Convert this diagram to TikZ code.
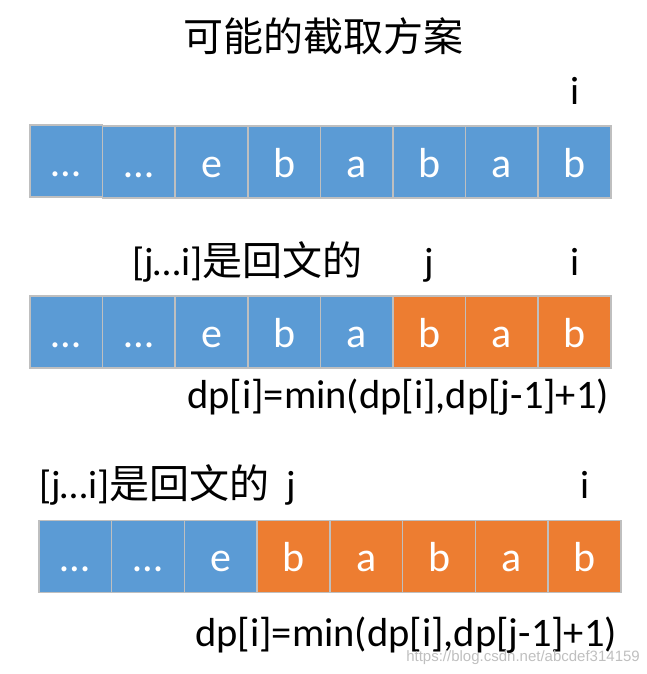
\documentclass[tikz,border=0pt]{standalone}
\usepackage{fontspec}
\setmainfont{Carlito}
\newfontfamily\cjk{Noto Sans CJK SC}
\newfontfamily\wmfont{Liberation Sans}
\definecolor{cellblue}{RGB}{91,155,213}
\definecolor{cellorange}{RGB}{237,125,49}
\definecolor{cellline}{RGB}{191,191,191}
\tikzset{
	cell/.style={draw=cellline, line width=1.5pt, minimum width=72.6pt, minimum height=72pt, inner sep=0pt, outer sep=0pt, text=white, text height=30pt, text depth=0pt, font=\fontsize{42}{42}\selectfont},
	bluecell/.style={cell, fill=cellblue},
	orangecell/.style={cell, fill=cellorange},
	lbl/.style={inner sep=0pt, anchor=base, font=\fontsize{39.5}{40}\selectfont},
	formula/.style={lbl, anchor=base west, font=\fontsize{40.5}{42}\selectfont},
}

\begin{document}
\begin{tikzpicture}[x=1pt, y=-1pt]
		%%%%% START %%%%%
		\useasboundingbox (0, 0) rectangle (646, 674);
		
		\node[lbl, font=\cjk\fontsize{40}{40}\selectfont] (title) at (323, 52) {可能的截取方案};
		
		% first row
		\node[lbl] (i1) at (575, 105) {i};
		\node[bluecell] (c11) at (66.3, 161) {…};
		\node[bluecell] (c12) at (138.9, 162) {…};
		\node[bluecell] (c13) at (211.5, 162) {e};
		\node[bluecell] (c14) at (284.1, 162) {b};
		\node[bluecell] (c15) at (356.7, 162) {a};
		\node[bluecell] (c16) at (429.3, 162) {b};
		\node[bluecell] (c17) at (501.9, 162) {a};
		\node[bluecell] (c18) at (574.5, 162) {b};
		
		% second row
		\node[lbl, anchor=base west] (pal2) at (132, 275) {[j…i]{\cjk\fontsize{40}{40}\selectfont 是回文的}};
		\node[lbl] (j2) at (429, 275) {j};
		\node[lbl] (i2) at (575, 275) {i};
		\node[bluecell] (c21) at (66.3, 332) {…};
		\node[bluecell] (c22) at (138.9, 332) {…};
		\node[bluecell] (c23) at (211.5, 332) {e};
		\node[bluecell] (c24) at (284.1, 332) {b};
		\node[bluecell] (c25) at (356.7, 332) {a};
		\node[orangecell] (c26) at (429.3, 332) {b};
		\node[orangecell] (c27) at (501.9, 332) {a};
		\node[orangecell] (c28) at (574.5, 332) {b};
		\node[formula] (dp2) at (187, 408) {dp[i]=min(dp[i],dp[j-1]+1)};
		
		% third row
		\node[lbl, anchor=base west] (pal3) at (39, 498) {[j…i]{\cjk\fontsize{40}{40}\selectfont 是回文的}};
		\node[lbl] (j3) at (291, 498) {j};
		\node[lbl] (i3) at (585, 498) {i};
		\node[bluecell, minimum width=72.75pt] (c31) at (75.4, 556.5) {…};
		\node[bluecell, minimum width=72.75pt] (c32) at (148.1, 556.5) {…};
		\node[bluecell, minimum width=72.75pt] (c33) at (220.9, 556.5) {e};
		\node[orangecell, minimum width=72.75pt] (c34) at (293.6, 556.5) {b};
		\node[orangecell, minimum width=72.75pt] (c35) at (366.4, 556.5) {a};
		\node[orangecell, minimum width=72.75pt] (c36) at (439.1, 556.5) {b};
		\node[orangecell, minimum width=72.75pt] (c37) at (511.9, 556.5) {a};
		\node[orangecell, minimum width=72.75pt] (c38) at (584.6, 556.5) {b};
		\node[formula] (dp3) at (195, 646) {dp[i]=min(dp[i],dp[j-1]+1)};
		
		\node[inner sep=0pt, anchor=base east, text=black!25, font=\wmfont\fontsize{15}{15}\selectfont] (mark) at (640, 661) {https://blog.csdn.net/abcdef314159};
		%%%%% END %%%%%
\end{tikzpicture}
\end{document}
